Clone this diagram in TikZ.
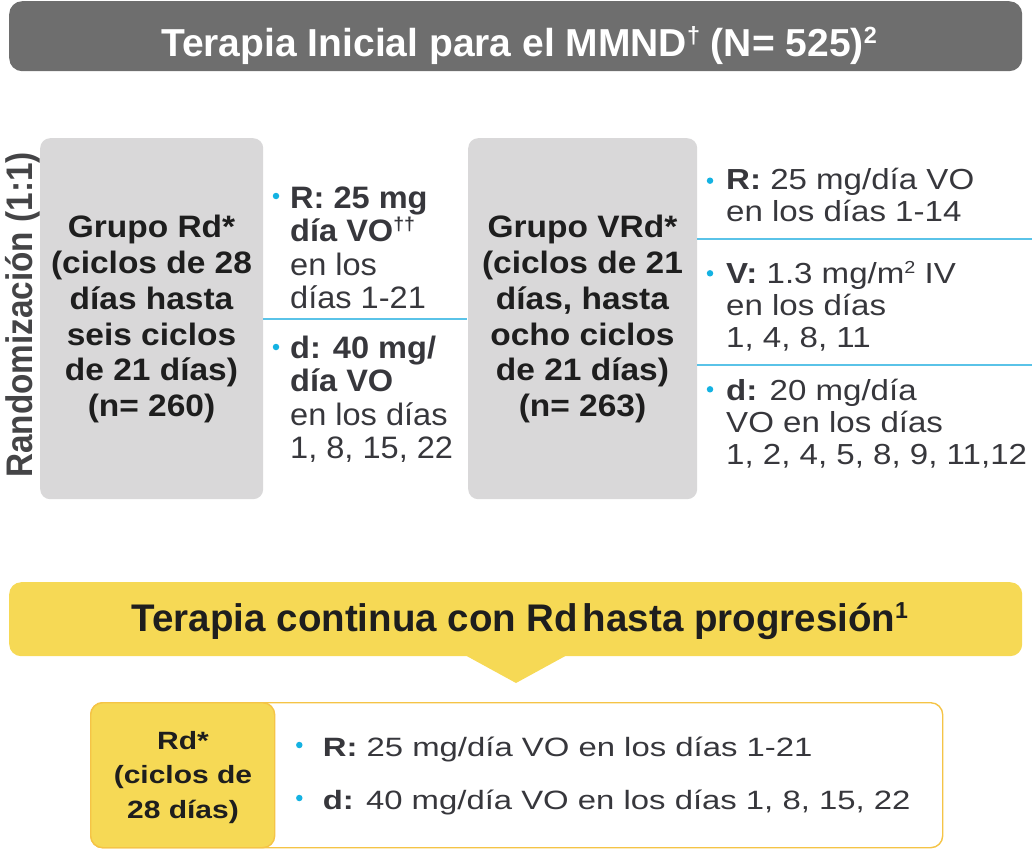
\documentclass[tikz,border=0pt]{standalone}
\usepackage{fontspec}
\setmainfont{Liberation Sans}
\newfontfamily\fTitle{Liberation Sans}
\newfontfamily\fBoxL[FakeStretch=1.08]{Liberation Sans}
\newfontfamily\fBulL[FakeStretch=1.05]{Liberation Sans}
\newfontfamily\fBulR[FakeStretch=1.14]{Liberation Sans}
\newfontfamily\fBot[FakeStretch=1.24]{Liberation Sans}
\newfontfamily\fRdB[FakeStretch=1.2]{Liberation Sans}
\newfontfamily\fRand[FakeStretch=0.9]{Liberation Sans}
\newcommand\mysup[1]{\raisebox{0.34em}{\scalebox{0.6}{#1}}}
\definecolor{hdrgray}{RGB}{110,110,110}
\definecolor{boxgray}{RGB}{217,216,217}
\definecolor{ylw}{RGB}{246,217,85}
\definecolor{ylwborder}{RGB}{245,196,70}
\definecolor{sepblue}{RGB}{90,195,232}
\definecolor{bulblue}{RGB}{20,178,226}
\definecolor{txt}{RGB}{55,55,60}
\definecolor{dark}{RGB}{30,30,30}
\definecolor{randgray}{RGB}{68,68,70}
\tikzset{
  graybox/.style={fill=boxgray, rounded corners=10pt, inner sep=0pt, anchor=north west},
  grouptext/.style={anchor=base, align=center, text=dark, inner sep=0pt,
    font=\fBoxL\bfseries\fontsize{31pt}{35.9pt}\selectfont},
  bulL/.style={anchor=base west, align=left, text=txt, inner sep=0pt,
    font=\fBulL\fontsize{31pt}{33.5pt}\selectfont},
  bulR/.style={anchor=base west, align=left, text=txt, inner sep=0pt,
    font=\fBulR\fontsize{29pt}{31.8pt}\selectfont},
  bulB/.style={anchor=base west, align=left, text=txt, inner sep=0pt,
    font=\fBot\fontsize{26.5pt}{30pt}\selectfont},
  dot/.style={circle, fill=bulblue, inner sep=0pt, minimum size=6.5pt},
  sep/.style={draw=sepblue, line width=1.6pt},
}
\begin{document}
\begin{tikzpicture}[x=1pt,y=-1pt]
\useasboundingbox (0,0) rectangle (1032,848);

% header
\node[fill=hdrgray, rounded corners=13pt, inner sep=0pt, anchor=north west,
  minimum width=1013pt, minimum height=70pt] (hdr) at (9,1) {};
\node[anchor=base, text=white, inner sep=0pt,
  font=\fTitle\bfseries\fontsize{39pt}{44pt}\selectfont] (title) at (519,57)
  {Terapia Inicial para el MMND\mysup{†} (N= 525)\mysup{2}};

% randomization label
\node[rotate=90, anchor=base, text=randgray, inner sep=0pt,
  font=\fRand\bfseries\fontsize{37pt}{40pt}\selectfont] (rand) at (32,315)
  {Randomización (1:1)};

% group boxes (text nodes anchored at the baseline of their last line)
\node[graybox, minimum width=223pt, minimum height=361pt] (grpRd) at (40,138) {};
\node[grouptext] (grpRdT) at (151.5,416.8)
  {Grupo Rd*\\(ciclos de 28\\días hasta\\seis ciclos\\de 21 días)\\(n= 260)};
\node[graybox, minimum width=229pt, minimum height=361pt] (grpVRd) at (468,138) {};
\node[grouptext] (grpVRdT) at (582.5,416.8)
  {Grupo VRd*\\(ciclos de 21\\días, hasta\\ocho ciclos\\de 21 días)\\(n= 263)};

% left bullets
\node[dot] (dL1) at (276,196) {};
\node[bulL] (bL1) at (290,308.5)
  {\textbf{R: 25 mg}\\\textbf{día VO\mysup{††}}\\en los\\días 1-21};
\coordinate (sL) at (467,319);
\draw[sep] (grpRd.east |- sL) -- (sL);
\node[dot] (dL2) at (276,347) {};
\node[bulL] (bL2) at (290,458.5)
  {\textbf{d: 40 mg/}\\\textbf{día VO}\\en los días\\1, 8, 15, 22};

% right bullets
\node[dot] (dR1) at (710,180.7) {};
\node[bulR] (bR1) at (726,221.7) {\textbf{R:} 25 mg/día VO\\en los días 1-14};
\coordinate (sR1) at (1032,239);
\draw[sep] (grpVRd.east |- sR1) -- (sR1);
\node[dot] (dR2) at (710,273.3) {};
\node[bulR] (bR2) at (726,347.3) {\textbf{V:} 1.3 mg/m\mysup{2} IV\\en los días\\1, 4, 8, 11};
\coordinate (sR2) at (1032,365);
\draw[sep] (grpVRd.east |- sR2) -- (sR2);
\node[dot] (dR3) at (710,389.3) {};
\node[bulR] (bR3) at (726,464) {\textbf{d:} 20 mg/día\\VO en los días\\1, 2, 4, 5, 8, 9, 11,12};

% yellow banner
\node[fill=ylw, rounded corners=12pt, inner sep=0pt, anchor=north west,
  minimum width=1013pt, minimum height=74pt] (banner) at (9,582) {};
\fill[ylw] (463,654) -- (516,683) -- (569,654) -- cycle;
\node[anchor=base, text=dark, inner sep=0pt,
  font=\fTitle\bfseries\fontsize{38.5pt}{44pt}\selectfont] (bannerT) at (520,631.7)
  {Terapia continua con Rd\hspace{0.12em}hasta progresión\mysup{1}};

% bottom box
\node[draw=ylwborder, fill=white, line width=1.4pt, rounded corners=12pt, inner sep=0pt,
  anchor=north west, minimum width=852pt, minimum height=145pt] (maint) at (90,702) {};
\node[draw=ylwborder, fill=ylw, line width=1.4pt, rounded corners=12pt, inner sep=0pt,
  anchor=north west, minimum width=184pt, minimum height=145pt] (rdbox) at (90,702) {};
\node[anchor=base, align=center, text=dark, inner sep=0pt,
  font=\fRdB\bfseries\fontsize{25pt}{34.5pt}\selectfont] (rdT) at (183,818)
  {Rd*\\(ciclos de\\28 días)};
\node[dot] (dB1) at (299.3,745) {};
\node[bulB] (bB1) at (322.7,756) {\textbf{R:} 25 mg/día VO en los días 1-21};
\node[dot] (dB2) at (299.3,798) {};
\node[bulB] (bB2) at (322.7,809) {\textbf{d:} 40 mg/día VO en los días 1, 8, 15, 22};
\end{tikzpicture}
\end{document}
